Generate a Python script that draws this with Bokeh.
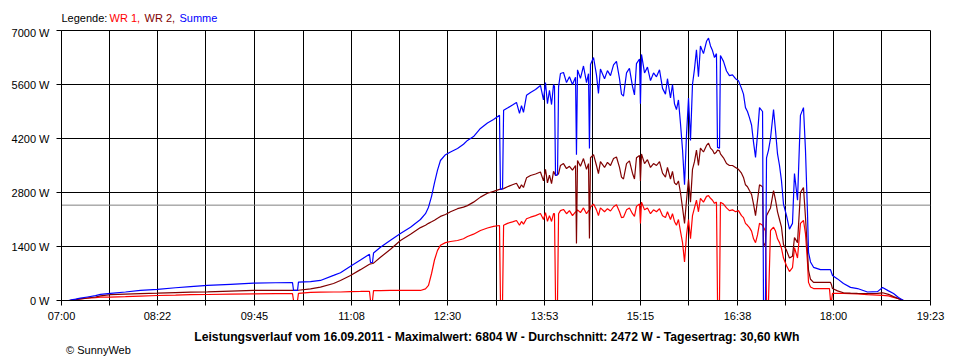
from bokeh.plotting import figure
from bokeh.layouts import column
from bokeh.models import Range1d, FixedTicker, Span, ColumnDataSource
from bokeh.core.properties import value
from bokeh.embed import file_html
from bokeh.resources import INLINE

# ---------------- data ----------------
DATE = "16.09.2011"
MAX_W = 6804
AVERAGE_W = 2472
DAY_YIELD = "30,60"

x_tick_labels = ["07:00", "08:22", "09:45", "11:08", "12:30",
                 "13:53", "15:15", "16:38", "18:00", "19:23"]
y_tick_values = [0, 1400, 2800, 4200, 5600, 7000]
y_tick_labels = ["0 W", "1400 W", "2800 W", "4200 W", "5600 W", "7000 W"]

legend_prefix = "Legende:"
series_names = ["WR 1", "WR 2", "Summe"]
copyright_text = "\u00a9 SunnyWeb"

# minutes after 07:00
minutes = [
    6.0, 7.7, 12.0, 16.2, 22.2, 29.1, 33.3, 41.9, 54.7, 67.5, 82.1, 97.5, 110.3, 124.8, 144.5,
    164.2, 183.0, 197.5, 198.4, 201.8, 202.6, 212.9, 221.4, 232.6, 238.5, 247.1, 255.6, 263.3,
    264.2, 265.9, 266.8, 272.7, 281.3, 289.8, 298.4, 306.9, 311.2, 313.8, 316.4, 318.9, 321.5,
    324.0, 328.3, 332.6, 338.6, 343.7, 347.1, 352.3, 358.2, 364.2, 369.4, 374.5, 375.3, 377.1,
    378.0, 381.3, 385.6, 389.0, 391.6, 393.3, 395.0, 397.6, 401.0, 405.3, 409.5, 412.1, 413.8,
    415.5, 417.2, 419.0, 420.7, 421.5, 422.4, 424.1, 425.0, 426.6, 429.2, 431.8, 434.3, 436.9,
    439.5, 440.3, 441.2, 443.7, 446.3, 448.9, 450.6, 451.4, 452.3, 454.9, 457.4, 459.1, 460.8,
    464.3, 466.8, 469.4, 472.0, 474.5, 477.1, 478.8, 480.5, 483.1, 485.6, 488.2, 489.9, 491.6,
    494.2, 495.0, 495.9, 498.5, 501.0, 503.6, 506.2, 508.7, 511.3, 513.9, 516.4, 518.1, 520.7,
    522.4, 524.1, 525.8, 527.5, 529.2, 531.0, 532.7, 534.4, 536.1, 537.8, 539.5, 541.2, 542.9,
    544.6, 546.3, 548.9, 551.5, 553.2, 554.9, 556.6, 558.3, 560.0, 560.9, 562.6, 563.4, 566.0,
    568.6, 571.1, 573.7, 576.3, 578.8, 581.4, 583.1, 584.8, 586.5, 588.2, 590.0, 591.7, 593.4,
    595.1, 596.8, 599.4, 600.2, 601.9, 602.8, 604.5, 606.2, 608.8, 610.5, 612.2, 613.9, 615.6,
    617.3, 619.9, 622.4, 625.0, 626.7, 629.3, 631.8, 634.4, 636.1, 637.8, 638.7, 640.4, 643.0,
    648.9, 656.6, 657.5, 658.4, 659.2, 663.5, 668.6, 674.6, 680.6, 689.1, 697.7, 702.0, 707.1,
    711.4, 715.6, 719.9,
]

wr1 = [
    0, 5, 20, 40, 60, 75, 85, 90, 100, 115, 130, 140, 150, 155, 165,
    173, 178, 180, 0, 0, 185, 210, 215, 220, 220, 230, 235, 240,
    0, 0, 255, 255, 260, 260, 260, 260, 300, 390, 700, 1050, 1300,
    1430, 1500, 1530, 1555, 1600, 1660, 1720, 1815, 1880, 1920, 1945, 0, 0,
    1950, 2000, 2040, 2075, 1950, 2050, 1980, 2120, 2160, 2200, 2255, 2100, 2280,
    2050, 2200, 2050, 2250, 2250, 0, 0, 2250, 2330, 2360, 2250, 2330, 2200,
    2300, 2300, 2350, 2280, 2400, 2250, 2330, 2330, 2420, 2500, 2350, 2200, 2400,
    2300, 2380, 2320, 2430, 2480, 2300, 2150, 2160, 2350, 2400, 2250, 2180, 2440,
    2500, 2000, 2550, 2350, 2400, 2250, 2350, 2300, 2380, 2200, 2150, 2300, 2100,
    2250, 2050, 1950, 2100, 1800, 1500, 1000, 1700, 2100, 1600, 2200, 2400, 2600,
    2300, 2650, 2550, 2700, 2720, 2650, 2600, 2520, 2550, 0, 0, 2550, 2500,
    2400, 2330, 2350, 2300, 2330, 2200, 2150, 2000, 1950, 1890, 1800, 1600, 1500,
    1700, 2000, 1950, 1900, 1800, 0, 0, 1815, 1900, 1800, 1600, 1500, 1350,
    1100, 900, 750, 850, 1370, 1100, 2000, 2075, 1735, 1000, 470, 350, 310,
    310, 310, 0, 0, 185, 185, 185, 180, 170, 150, 140, 135, 120,
    80, 50, 0,
]

wr2 = [
    0, 5, 20, 40, 65, 90, 120, 150, 165, 180, 190, 205, 215, 225, 245,
    260, 262, 262, 262, 262, 265, 300, 345, 440, 520, 650, 800, 940,
    950, 960, 970, 1120, 1330, 1555, 1720, 1890, 1950, 2000, 2040, 2080, 2130,
    2180, 2230, 2300, 2380, 2420, 2460, 2550, 2680, 2780, 2830, 2880, 2880, 2890,
    2900, 2950, 3000, 3040, 2900, 3000, 2930, 3180, 3240, 3280, 3330, 3100, 3400,
    3050, 3250, 3030, 3350, 3300, 3240, 3260, 3290, 3500, 3550, 3420, 3480, 3380,
    3500, 1480, 3630, 3480, 3680, 3400, 3550, 1610, 3700, 3780, 3500, 3290, 3600,
    3450, 3580, 3500, 3680, 3720, 3450, 3200, 3150, 3550, 3620, 3300, 3150, 3700,
    3760, 3100, 3800, 3550, 3650, 3450, 3550, 3500, 3600, 3300, 3200, 3450, 3150,
    3350, 3050, 3000, 3100, 2800, 2400, 2000, 2600, 3150, 2550, 3400, 3600, 3900,
    3500, 3950, 3850, 4020, 4080, 3950, 3900, 3800, 3850, 3900, 3880, 3800, 3700,
    3550, 3500, 3500, 3450, 3400, 3300, 3190, 3000, 2950, 2850, 2750, 2500, 2200,
    2600, 3000, 2950, 1400, 1500, 2200, 2300, 2400, 2850, 2600, 2300, 2100, 1900,
    1450, 1300, 1100, 1150, 1630, 1500, 2800, 2930, 2160, 1300, 780, 550, 470,
    470, 470, 470, 400, 310, 250, 200, 190, 185, 180, 185, 200, 160,
    100, 50, 0,
]

summe = [
    0, 10, 35, 60, 90, 125, 160, 185, 220, 260, 290, 330, 360, 390, 420,
    450, 460, 465, 260, 260, 475, 490, 520, 650, 720, 890, 1050, 1200,
    985, 985, 1230, 1380, 1560, 1735, 1900, 2100, 2250, 2420, 2700, 3050, 3380,
    3630, 3780, 3850, 3940, 4050, 4150, 4250, 4460, 4600, 4690, 4800, 2880, 2900,
    4930, 4990, 5070, 5135, 4850, 5050, 4880, 5320, 5395, 5470, 5575, 5200, 5650,
    5100, 5450, 5080, 5600, 5550, 3240, 3260, 5540, 5885, 5910, 5650, 5800, 5600,
    5790, 3780, 5980, 5760, 6080, 5650, 5880, 3940, 6120, 6300, 5850, 5370, 6000,
    5750, 5960, 5830, 6110, 6200, 5750, 5350, 5300, 5900, 6020, 5550, 5330, 6140,
    6260, 5100, 6380, 5900, 6050, 5700, 5900, 5800, 5980, 5500, 5350, 5750, 5250,
    5600, 5100, 4950, 5200, 4600, 3900, 3000, 4300, 5250, 4150, 5600, 6000, 6500,
    5800, 6600, 6400, 6720, 6804, 6600, 6480, 6300, 6400, 3970, 3950, 6350, 6200,
    5950, 5830, 5850, 5750, 5700, 5500, 5350, 5000, 4900, 4740, 4550, 4100, 3710,
    4300, 5000, 4900, 0, 0, 3700, 3900, 4200, 4950, 4400, 3800, 3500, 3100,
    2500, 2200, 1850, 2000, 3290, 2600, 4800, 5000, 3900, 2300, 1250, 1000, 860,
    800, 800, 800, 720, 650, 560, 440, 340, 310, 220, 230, 335, 250,
    180, 80, 0,
]

series_colors = ["#FF0000", "#800000", "#0000FF"]


# ---------------- helpers ----------------
def hhmm(s):
    h, m = s.split(":")
    return int(h) * 60 + int(m)


major = [hhmm(s) - hhmm(x_tick_labels[0]) for s in x_tick_labels]
mids = [(a + b) / 2 for a, b in zip(major[:-1], major[1:])]
all_ticks = sorted(major + mids)
x_overrides = {m: lab for m, lab in zip(major, x_tick_labels)}
for m in mids:
    x_overrides[m] = ""

FONT = "Liberation Sans"
W = 958
LEFT, RIGHT = 61, 28


def text_fig(height, left, right, xr):
    f = figure(width=W, height=height, output_backend="svg", toolbar_location=None,
               x_range=xr, y_range=Range1d(0, height), x_axis_type=None, y_axis_type=None,
               min_border_left=left, min_border_right=right, min_border_top=0, min_border_bottom=0)
    f.title.visible = False
    f.outline_line_color = None
    f.background_fill_color = "white"
    f.border_fill_color = "white"
    f.grid.visible = False
    return f


# ---------------- header (legend line) ----------------
head_h = 26
head = text_fig(head_h, LEFT, RIGHT, Range1d(major[0], major[-1]))
leg_offsets = [0, 48, 83, 118]
leg_texts = [legend_prefix, series_names[0] + ",", series_names[1] + ",", series_names[2]]
leg_colors = ["black"] + series_colors
for off, txt, colr in zip(leg_offsets, leg_texts, leg_colors):
    head.text(x=[major[0]], y=[head_h - 17], text=[txt], x_offset=off,
              text_baseline="middle", text_align="left", text_font=value(FONT),
              text_font_size="11px", text_color=colr)

# ---------------- main chart ----------------
p = figure(width=W, height=300, output_backend="svg", toolbar_location=None,
           x_range=Range1d(major[0], major[-1]), y_range=Range1d(y_tick_values[0], y_tick_values[-1]),
           min_border_left=LEFT, min_border_right=RIGHT, min_border_top=4, min_border_bottom=26)
p.title.visible = False
p.background_fill_color = "white"
p.border_fill_color = "white"
p.outline_line_color = "black"
p.outline_line_alpha = 1.0

p.xaxis.ticker = FixedTicker(ticks=all_ticks)
p.xaxis.major_label_overrides = x_overrides
p.yaxis.ticker = FixedTicker(ticks=y_tick_values)
p.yaxis.major_label_overrides = {v: l for v, l in zip(y_tick_values, y_tick_labels)}

for ax in (p.xaxis[0], p.yaxis[0]):
    ax.axis_line_color = "black"
    ax.major_tick_line_color = "black"
    ax.minor_tick_line_color = None
    ax.major_tick_in = 0
    ax.major_tick_out = 5
    ax.major_label_text_font = FONT
    ax.major_label_text_font_size = "11px"
    ax.major_label_text_color = "black"
p.xaxis.major_label_standoff = 4
p.yaxis.major_label_standoff = 7

for g in (p.xgrid[0], p.ygrid[0]):
    g.grid_line_color = "black"
    g.grid_line_alpha = 1.0
    g.grid_line_width = 1

p.add_layout(Span(location=AVERAGE_W, dimension="width", line_color="#808080",
                  line_width=1, level="underlay"))

src = ColumnDataSource(dict(t=minutes, wr1=wr1, wr2=wr2, summe=summe))
for col, color in zip(["wr1", "wr2", "summe"], series_colors):
    p.line("t", col, source=src, line_color=color, line_width=1.2)

# ---------------- footer (caption + copyright) ----------------
foot_h = 32
foot = text_fig(foot_h, 0, 0, Range1d(0, W))
caption = (f"Leistungsverlauf vom {DATE} - Maximalwert: {MAX_W} W - "
           f"Durchschnitt: {AVERAGE_W} W - Tagesertrag: {DAY_YIELD} kWh")
foot.text(x=[480], y=[foot_h - 10], text=[caption], text_align="center", text_baseline="middle",
          text_font=value(FONT), text_font_size="12.2px", text_font_style="bold", text_color="black")
foot.text(x=[5], y=[foot_h - 23], text=[copyright_text], text_align="left", text_baseline="middle",
          text_font=value(FONT), text_font_size="11px", text_color="black")

layout = column(head, p, foot, spacing=0)
open("out.html", "w").write(file_html(layout, INLINE))
